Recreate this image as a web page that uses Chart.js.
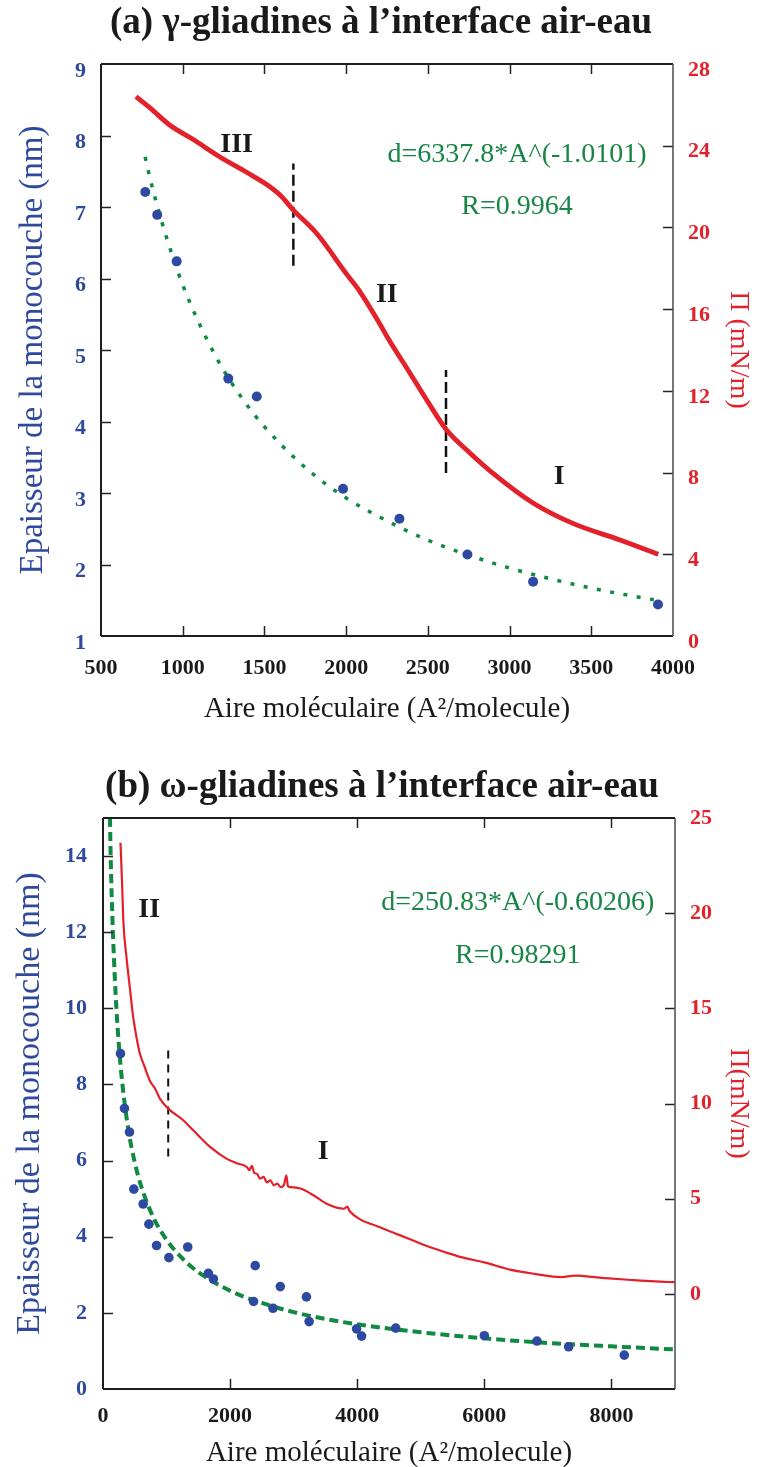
<!DOCTYPE html>
<html><head><meta charset="utf-8">
<script src="https://cdn.jsdelivr.net/npm/chart.js@4.4.0/dist/chart.umd.min.js"></script>
<style>
html,body{margin:0;padding:0;background:#fff;overflow:hidden;}
#wrap{width:759px;height:1467px;position:relative;}
canvas{position:absolute;left:0;display:block;}
</style></head><body>
<div id="wrap">
<canvas id="c1" width="759" height="740" style="top:0px"></canvas>
<canvas id="c2" width="759" height="740" style="top:740px"></canvas>
</div>
<script>
// ---------- (a) gamma-gliadines ----------
const gammaXTicks  = [500, 1000, 1500, 2000, 2500, 3000, 3500, 4000];
const gammaYTicks  = [1, 2, 3, 4, 5, 6, 7, 8, 9];
const gammaPiTicks = [0, 4, 8, 12, 16, 20, 24, 28];
const gammaArea      = [771, 844, 963, 1279, 1453, 1981, 2326, 2742, 3144, 3908];
const gammaThickness = [7.21, 6.89, 6.24, 4.60, 4.35, 3.06, 2.64, 2.14, 1.76, 1.44];
const gammaFitArea      = [770, 800, 850, 900, 1000, 1200, 1400, 1600, 1800, 2000, 2250, 2500, 2750, 3000, 3250, 3500, 3750, 3900];
const gammaFitThickness = [7.70, 7.40, 6.97, 6.58, 5.91, 4.92, 4.21, 3.68, 3.26, 2.93, 2.61, 2.34, 2.13, 1.95, 1.80, 1.67, 1.56, 1.50];
const gammaPiArea = [714, 800, 922, 1065, 1228, 1391, 1514, 1600, 1677, 1820, 2004, 2085, 2208, 2258, 2391, 2493, 2615, 2759, 2901, 3146, 3391, 3676, 3910];
const gammaPi     = [26.4, 25.85, 25.0, 24.3, 23.45, 22.7, 22.1, 21.55, 20.85, 19.7, 17.7, 16.85, 15.25, 14.55, 12.86, 11.55, 10.08, 8.95, 7.95, 6.5, 5.5, 4.7, 4.0];
const gammaDividerArea = [1677, 2611];
const gammaDividerLow  = [6.18, 3.28];
const gammaDividerHigh = [7.61, 4.72];
const gammaRegimeLabels = ['III', 'II', 'I'];
const gammaRegimeArea   = [1330, 2249, 3303];
const gammaRegimeThick  = [7.87, 5.77, 3.23];
const gammaFitText  = ['d=6337.8*A^(-1.0101)', 'R=0.9964'];
const gammaFitTextArea  = [3046, 3046];
const gammaFitTextThick = [7.73, 7.00];

// ---------- (b) omega-gliadines ----------
const omegaXTicks  = [0, 2000, 4000, 6000, 8000];
const omegaYTicks  = [0, 2, 4, 6, 8, 10, 12, 14];
const omegaPiTicks = [0, 5, 10, 15, 20, 25];
const omegaArea      = [275, 338, 417, 485, 632, 722, 843, 1037, 1333, 1658, 1737, 2369, 2395, 2675, 2790, 3201, 3243, 3990, 4069, 4606, 6000, 6828, 7327, 8202];
const omegaThickness = [8.81, 7.37, 6.75, 5.25, 4.86, 4.33, 3.77, 3.45, 3.73, 3.04, 2.89, 2.30, 3.24, 2.12, 2.69, 2.42, 1.77, 1.58, 1.39, 1.60, 1.40, 1.26, 1.11, 0.89];
const omegaFitArea      = [110, 120, 150, 200, 250, 300, 400, 500, 600, 800, 1000, 1250, 1500, 2000, 2500, 3000, 3500, 4000, 5000, 6000, 7000, 8000, 9000];
const omegaFitThickness = [15.0, 14.05, 12.28, 10.33, 9.03, 8.09, 6.80, 5.95, 5.33, 4.48, 3.92, 3.43, 3.07, 2.58, 2.26, 2.02, 1.84, 1.70, 1.49, 1.33, 1.21, 1.12, 1.04];
const omegaPiArea = [275, 300, 320, 369, 422, 474, 537, 580, 658, 737, 816, 895, 1026, 1263, 1421, 1685, 1948, 2106, 2264, 2300, 2343, 2380, 2422, 2470, 2527, 2580, 2632, 2690, 2738, 2800, 2850, 2885, 2910, 2948, 3106, 3316, 3527, 3790, 3843, 3880, 4053, 4317, 4580, 4843, 5107, 5370, 5633, 6000, 6422, 6790, 7211, 7422, 7843, 8264, 8685, 9000];
const omegaPi     = [23.7, 21.6, 19.6, 17.7, 16.1, 14.56, 13.3, 12.63, 11.9, 11.2, 10.8, 10.26, 9.73, 9.12, 8.59, 7.72, 7.09, 6.86, 6.66, 6.5, 6.72, 6.35, 6.31, 6.05, 6.14, 5.85, 5.96, 5.7, 5.79, 5.6, 5.75, 6.23, 5.65, 5.61, 5.53, 5.17, 4.72, 4.47, 4.58, 4.35, 3.9, 3.55, 3.2, 2.85, 2.5, 2.2, 1.93, 1.65, 1.26, 1.05, 0.88, 0.96, 0.84, 0.74, 0.65, 0.61];
const omegaDividerArea = [1026];
const omegaDividerLow  = [6.11];
const omegaDividerHigh = [8.97];
const omegaRegimeLabels = ['II', 'I'];
const omegaRegimeArea   = [726, 3464];
const omegaRegimeThick  = [12.6, 6.24];
const omegaFitText  = ['d=250.83*A^(-0.60206)', 'R=0.98291'];
const omegaFitTextArea  = [6527, 6527];
const omegaFitTextThick = [12.78, 11.38];

const SERIF = "'Liberation Serif', 'Times New Roman', serif";
const BLUE = '#2f4a9c', RED = '#e2212b', GREEN = '#178546', BLACK = '#1a1a1a';

function pts(xs, ys) { return xs.map((x, i) => ({ x: x, y: ys[i] })); }

const framePlugin = {
  id: 'frameTicks',
  afterDraw(chart) {
    const { ctx, chartArea: a, scales } = chart;
    const L = 10;
    ctx.save();
    ctx.lineWidth = 1.5;
    ctx.strokeStyle = '#222';
    const seg = (x1, y1, x2, y2) => { ctx.beginPath(); ctx.moveTo(x1, y1); ctx.lineTo(x2, y2); ctx.stroke(); };
    scales.x.ticks.forEach(t => {
      const p = Math.round(scales.x.getPixelForValue(t.value)) + 0.5;
      if (p <= a.left + 2 || p >= a.right - 2) return;
      seg(p, a.bottom, p, a.bottom - L);
      seg(p, a.top, p, a.top + L);
    });
    scales.y.ticks.forEach(t => {
      const p = Math.round(scales.y.getPixelForValue(t.value)) + 0.5;
      if (p <= a.top + 2 || p >= a.bottom - 2) return;
      seg(a.left, p, a.left + L, p);
    });
    scales.y2.ticks.forEach(t => {
      const p = Math.round(scales.y2.getPixelForValue(t.value)) + 0.5;
      if (p <= a.top + 2 || p >= a.bottom - 2) return;
      seg(a.right, p, a.right - L, p);
    });
    ctx.lineWidth = 2;
    ctx.strokeStyle = '#1e1e1e';
    seg(a.left, a.top, a.right, a.top);
    seg(a.left, a.top, a.left, a.bottom);
    seg(a.left, a.bottom, a.right, a.bottom);
    ctx.lineWidth = 1.6;
    ctx.strokeStyle = '#555';
    seg(a.right, a.top, a.right, a.bottom);
    ctx.restore();
  }
};

const notesPlugin = {
  id: 'notes',
  afterDraw(chart, args, opts) {
    const { ctx, scales } = chart;
    ctx.save();
    ctx.textAlign = 'center';
    ctx.textBaseline = 'middle';
    ctx.font = 'bold 37px ' + SERIF;
    ctx.fillStyle = BLACK;
    ctx.fillText(opts.title, opts.titleX, opts.titleY);
    ctx.font = 'bold 28px ' + SERIF;
    opts.regimes.forEach((t, i) => {
      ctx.fillText(t, scales.x.getPixelForValue(opts.regimeX[i]), scales.y.getPixelForValue(opts.regimeY[i]));
    });
    ctx.font = '28px ' + SERIF;
    ctx.fillStyle = GREEN;
    opts.fit.forEach((t, i) => {
      ctx.fillText(t, scales.x.getPixelForValue(opts.fitX[i]), scales.y.getPixelForValue(opts.fitY[i]));
    });
    ctx.restore();
  }
};

function dividerSets(xs, lo, hi, width, dash) {
  return xs.map((x, i) => ({
    data: [{ x: x, y: lo[i] }, { x: x, y: hi[i] }],
    yAxisID: 'y', borderColor: '#111', borderWidth: width, borderDash: dash,
    pointRadius: 0, fill: false
  }));
}

const fmt = v => String(v);

function makeChart(id, c) {
  return new Chart(document.getElementById(id), {
    type: 'line',
    data: { datasets: c.datasets },
    options: {
      responsive: false, animation: false, devicePixelRatio: 1,
      layout: { padding: { top: c.plotTop, left: 0, right: 0, bottom: 0 } },
      plugins: { legend: { display: false }, tooltip: { enabled: false }, notes: c.notes },
      elements: { line: { tension: 0 } },
      scales: {
        x: {
          type: 'linear', position: 'bottom', min: c.xMin, max: c.xMax,
          afterBuildTicks: s => { s.ticks = c.xTicks.map(v => ({ value: v })); },
          ticks: { callback: fmt, color: BLACK, font: { family: SERIF, size: 22, weight: 'bold' }, padding: c.xTickPad, maxRotation: 0, autoSkip: false },
          grid: { display: false, drawTicks: false }, border: { display: false },
          title: { display: true, text: 'Aire moléculaire (A²/molecule)', color: BLACK, font: { family: SERIF, size: 29 }, padding: { top: 0, bottom: c.xTitlePad } },
          afterFit: s => { s.height = c.xH; }
        },
        y: {
          type: 'linear', position: 'left', min: c.yMin, max: c.yMax,
          afterBuildTicks: s => { s.ticks = c.yTicks.map(v => ({ value: v })); },
          ticks: { callback: fmt, color: BLUE, font: { family: SERIF, size: 22, weight: 'bold' }, padding: c.yTickPad, labelOffset: c.yLabelOffset, autoSkip: false },
          grid: { display: false, drawTicks: false }, border: { display: false },
          title: { display: true, text: 'Epaisseur de la monocouche (nm)', color: BLUE, font: { family: SERIF, size: c.yTitleSize }, padding: { top: c.yTitlePad, bottom: 0 } },
          afterFit: s => { s.width = c.leftW; }
        },
        y2: {
          type: 'linear', position: 'right', min: c.y2Min, max: c.y2Max,
          afterBuildTicks: s => { s.ticks = c.y2Ticks.map(v => ({ value: v })); },
          ticks: { callback: fmt, color: RED, font: { family: SERIF, size: 22, weight: 'bold' }, padding: c.y2TickPad, labelOffset: c.y2LabelOffset, autoSkip: false },
          grid: { display: false, drawTicks: false }, border: { display: false },
          title: { display: true, text: c.y2Title, color: RED, font: { family: SERIF, size: 28 }, padding: { top: c.y2TitlePad, bottom: 0 } },
          afterFit: s => { s.width = c.rightW; }
        }
      }
    },
    plugins: [framePlugin, notesPlugin]
  });
}

// Chart (a)
makeChart('c1', {
  plotTop: 64, leftW: 101, rightW: 86, xH: 104,
  xMin: 500, xMax: 4000, xTicks: gammaXTicks, xTickPad: 19, xTitlePad: 13,
  yMin: 1, yMax: 9, yTicks: gammaYTicks, yTickPad: 15, yLabelOffset: 7, yTitlePad: 14, yTitleSize: 33,
  y2Min: 0, y2Max: 28, y2Ticks: gammaPiTicks, y2TickPad: 15, y2LabelOffset: 6, y2TitlePad: 4, y2Title: 'Π (mN/m)',
  notes: {
    title: '(a) γ-gliadines à l’interface air-eau', titleX: 381, titleY: 23,
    regimes: gammaRegimeLabels, regimeX: gammaRegimeArea, regimeY: gammaRegimeThick,
    fit: gammaFitText, fitX: gammaFitTextArea, fitY: gammaFitTextThick
  },
  datasets: [
    { data: pts(gammaArea, gammaThickness), yAxisID: 'y', showLine: false, pointRadius: 5, pointBorderWidth: 0, pointBackgroundColor: '#2d49a0' },
    { data: pts(gammaPiArea, gammaPi), yAxisID: 'y2', borderColor: RED, borderWidth: 4.8, pointRadius: 0, cubicInterpolationMode: 'monotone', fill: false },
    { data: pts(gammaFitArea, gammaFitThickness), yAxisID: 'y', borderColor: '#0f8a40', borderWidth: 3.5, borderDash: [4, 9.5], pointRadius: 0, cubicInterpolationMode: 'monotone', fill: false },
    ...dividerSets(gammaDividerArea, gammaDividerLow, gammaDividerHigh, 2.5, [11, 5])
  ]
});

// Chart (b)
makeChart('c2', {
  plotTop: 78, leftW: 103, rightW: 84, xH: 91,
  xMin: 0, xMax: 9000, xTicks: omegaXTicks, xTickPad: 14, xTitlePad: 9,
  yMin: 0, yMax: 15, yTicks: omegaYTicks, yTickPad: 16, yLabelOffset: 0, yTitlePad: 10, yTitleSize: 34,
  y2Min: -5, y2Max: 25, y2Ticks: omegaPiTicks, y2TickPad: 15, y2LabelOffset: 0, y2TitlePad: 4, y2Title: 'Π(mN/m)',
  notes: {
    title: '(b) ω-gliadines à l’interface air-eau', titleX: 382, titleY: 47,
    regimes: omegaRegimeLabels, regimeX: omegaRegimeArea, regimeY: omegaRegimeThick,
    fit: omegaFitText, fitX: omegaFitTextArea, fitY: omegaFitTextThick
  },
  datasets: [
    { data: pts(omegaArea, omegaThickness), yAxisID: 'y', showLine: false, pointRadius: 4.8, pointBorderWidth: 0, pointBackgroundColor: '#2d49a0' },
    { data: pts(omegaPiArea, omegaPi), yAxisID: 'y2', borderColor: RED, borderWidth: 2.2, pointRadius: 0, cubicInterpolationMode: 'monotone', fill: false },
    { data: pts(omegaFitArea, omegaFitThickness), yAxisID: 'y', borderColor: '#0f8a40', borderWidth: 4, borderDash: [9, 5], pointRadius: 0, cubicInterpolationMode: 'monotone', fill: false },
    ...dividerSets(omegaDividerArea, omegaDividerLow, omegaDividerHigh, 2, [8, 6])
  ]
});
</script>
</body></html>
